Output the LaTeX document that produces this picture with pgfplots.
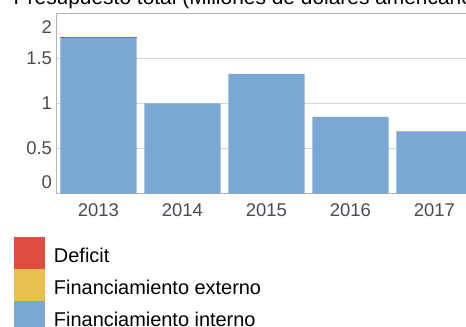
\documentclass[border=0pt]{standalone}
\usepackage{fontspec}
\setmainfont{Liberation Sans}
\usepackage{pgfplots}
\pgfplotsset{compat=1.18}

\definecolor{interno}{HTML}{7BA7D4}
\definecolor{externo}{HTML}{E8BF50}
\definecolor{deficit}{HTML}{DD4E41}
\definecolor{ticktext}{HTML}{4A4A55}
\definecolor{gridgray}{HTML}{D6D6D6}
\definecolor{framegray}{HTML}{B4B4B4}

\begin{document}
\begin{tikzpicture}
\useasboundingbox (0,0) rectangle (466bp,327bp);
\clip (0,0) rectangle (466bp,327bp);

\node[anchor=base west, inner sep=0pt, font=\fontsize{21}{25}\selectfont]
  at (13.5bp,322bp) {Presupuesto total (Millones de dólares americanos)};

\begin{axis}[
  at={(56.5bp,133.5bp)}, anchor=south west,
  scale only axis, width=420bp, height=180bp,
  ybar stacked, bar width=76bp,
  xmin=-0.5, xmax=4.5, ymin=0, ymax=2,
  xtick={0,1,2,3,4},
  xticklabels={2013,2014,2015,2016,2017},
  ytick={0.5,1,1.5}, yticklabels={0.5,1,1.5},
  extra y ticks={0.128,1.844}, extra y tick labels={0,2},
  extra y tick style={grid=none},
  ymajorgrids, grid style={gridgray, line width=1.6bp},
  major tick length=0pt,
  axis line style={framegray, line width=1.6bp},
  axis x line*=bottom, axis y line*=left,
  ticklabel style={font=\fontsize{18.5}{22}\selectfont, text=ticktext},
  xticklabel style={yshift=-7bp},
  yticklabel style={xshift=-1bp},
  /pgf/number format/assume math mode=true,
  clip=false,
  reverse legend,
  legend cell align=left,
  legend image code/.code={\fill[#1] (0bp,-16bp) rectangle (31bp,16bp);},
  legend style={at={(-0.10119,-0.24167)}, anchor=north west,
    draw=none, fill=none, inner sep=0pt, outer sep=0pt,
    row sep=0pt, column sep=9bp,
    nodes={inner sep=0pt, text height=19.5bp, text depth=0pt},
    font=\fontsize{20}{24}\selectfont},
]
\addplot[fill=interno, draw=none] coordinates {(0,1.727) (1,1.002) (2,1.328) (3,0.850) (4,0.684)};
\addplot[fill=externo, draw=none] coordinates {(0,0) (1,0) (2,0) (3,0) (4,0.012)};
\addplot[fill=deficit, draw=none] coordinates {(0,0.012) (1,0) (2,0) (3,0) (4,0)};
\legend{Financiamiento interno, Financiamiento externo, Deficit}
\end{axis}
% frame line along the top of the plotting area
\draw[framegray, line width=1.6bp] (56.5bp,313.5bp) -- (476bp,313.5bp);
\end{tikzpicture}
\end{document}
